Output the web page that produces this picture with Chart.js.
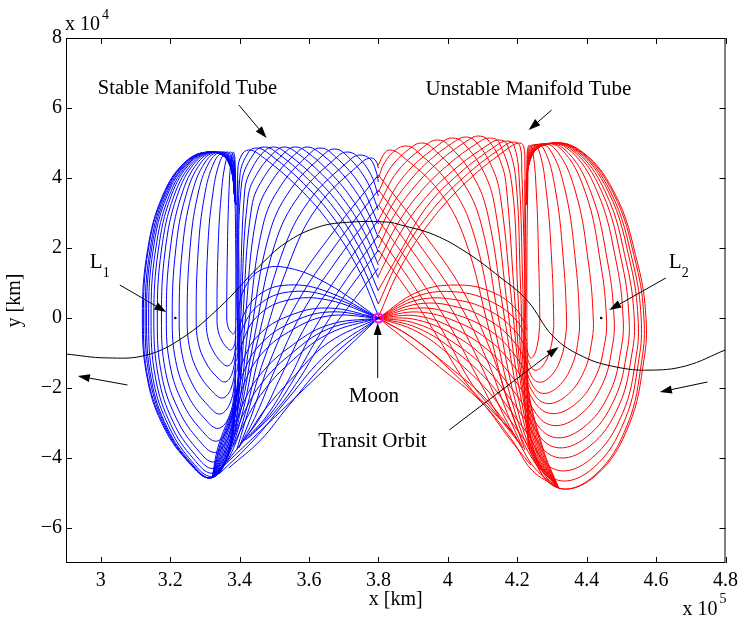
<!DOCTYPE html>
<html><head><meta charset="utf-8">
<script src="https://cdn.jsdelivr.net/npm/chart.js@4.4.0/dist/chart.umd.min.js"></script>
<style>html,body{margin:0;padding:0;background:#fff}#c{display:block}</style>
</head><body>
<canvas id="c" width="744" height="620"></canvas>
<script>
// Units: x in 10^5 km, y in 10^4 km (as shown by the axis multipliers)
const xTicks = [3.0,3.2,3.4,3.6,3.8,4.0,4.2,4.4,4.6,4.8];
const xTickLabels = ['3','3.2','3.4','3.6','3.8','4','4.2','4.4','4.6','4.8'];
const yTicks = [-6,-4,-2,0,2,4,6,8];
const yTickLabels = ['\u22126','\u22124','\u22122','0','2','4','6','8'];

const transitOrbit = [[2.9,-1.03],[3.017,-1.14],[3.132,-1.06],[3.235,-0.57],[3.341,0.29],[3.455,1.46],[3.532,2.14],[3.627,2.6],[3.721,2.74],[3.827,2.74],[3.864,2.66],[3.962,2.37],[4.056,1.86],[4.15,1.17],[4.228,0.51],[4.305,-0.54],[4.391,-1.11],[4.485,-1.4],[4.58,-1.49],[4.685,-1.37],[4.8,-0.91]];
const lagrangePoints = [[3.215,0],[4.442,0]];
const moonPoint = [[3.8,0]];

// ---------- Stable manifold tube (blue), L1 side ----------
const blueLoopX = [
 [3.389,3.366,3.312,3.243,3.178,3.135,3.120,3.135,3.183,3.255,3.315,3.364,3.389],
 [3.389,3.367,3.313,3.245,3.180,3.137,3.123,3.137,3.186,3.256,3.316,3.364,3.389],
 [3.389,3.367,3.314,3.247,3.183,3.142,3.128,3.142,3.189,3.258,3.317,3.364,3.389],
 [3.389,3.367,3.315,3.250,3.187,3.146,3.132,3.146,3.192,3.261,3.318,3.365,3.389],
 [3.389,3.368,3.317,3.253,3.191,3.151,3.138,3.151,3.197,3.263,3.320,3.365,3.389],
 [3.389,3.368,3.319,3.257,3.197,3.158,3.145,3.158,3.202,3.267,3.322,3.366,3.389],
 [3.389,3.369,3.321,3.261,3.203,3.166,3.153,3.166,3.208,3.271,3.324,3.367,3.389],
 [3.389,3.370,3.324,3.267,3.211,3.175,3.163,3.175,3.216,3.276,3.327,3.368,3.389],
 [3.389,3.371,3.328,3.273,3.220,3.186,3.175,3.186,3.225,3.282,3.330,3.369,3.389],
 [3.389,3.372,3.332,3.281,3.232,3.200,3.189,3.200,3.236,3.289,3.334,3.370,3.389],
 [3.389,3.374,3.337,3.290,3.245,3.216,3.206,3.216,3.249,3.298,3.339,3.372,3.389],
 [3.389,3.375,3.343,3.301,3.261,3.235,3.226,3.235,3.264,3.308,3.344,3.374,3.389],
 [3.389,3.377,3.349,3.313,3.279,3.257,3.249,3.257,3.282,3.319,3.351,3.376,3.389],
 [3.389,3.380,3.356,3.327,3.299,3.281,3.275,3.281,3.302,3.332,3.358,3.378,3.389],
 [3.389,3.382,3.365,3.343,3.322,3.308,3.304,3.308,3.324,3.346,3.366,3.381,3.389],
 [3.389,3.385,3.374,3.360,3.347,3.338,3.335,3.338,3.348,3.362,3.374,3.384,3.389],
 [3.389,3.387,3.382,3.375,3.369,3.365,3.363,3.365,3.369,3.376,3.382,3.387,3.389]
];
const blueLoopY = [
 [3.229,4.486,4.743,4.457,3.486,1.943,0,-1.771,-3.143,-4.143,-4.571,-4.0,-2.629],
 [3.229,4.486,4.743,4.457,3.486,1.943,0,-1.771,-3.143,-4.143,-4.571,-4.0,-2.629],
 [3.229,4.486,4.743,4.457,3.486,1.943,0,-1.771,-3.143,-4.143,-4.571,-4.0,-2.629],
 [3.229,4.486,4.743,4.457,3.486,1.943,0,-1.771,-3.143,-4.143,-4.571,-4.0,-2.629],
 [3.229,4.486,4.743,4.457,3.486,1.943,0,-1.753,-3.112,-4.102,-4.525,-3.96,-2.603],
 [3.229,4.486,4.743,4.457,3.486,1.943,0,-1.718,-3.049,-4.019,-4.434,-3.88,-2.55],
 [3.229,4.486,4.743,4.457,3.486,1.943,0,-1.665,-2.954,-3.894,-4.297,-3.76,-2.471],
 [3.229,4.486,4.743,4.457,3.486,1.943,0,-1.594,-2.829,-3.729,-4.114,-3.6,-2.366],
 [3.229,4.486,4.743,4.457,3.486,1.943,0,-1.488,-2.64,-3.48,-3.84,-3.36,-2.208],
 [3.229,4.486,4.743,4.457,3.486,1.943,0,-1.364,-2.42,-3.19,-3.52,-3.08,-2.024],
 [3.229,4.486,4.743,4.457,3.486,1.943,0,-1.222,-2.169,-2.859,-3.154,-2.76,-1.814],
 [3.229,4.486,4.743,4.457,3.486,1.943,0,-1.063,-1.886,-2.486,-2.743,-2.4,-1.577],
 [3.229,4.486,4.743,4.457,3.486,1.943,0,-0.886,-1.572,-2.072,-2.286,-2.0,-1.315],
 [3.229,4.486,4.743,4.457,3.486,1.943,0,-0.708,-1.257,-1.657,-1.828,-1.6,-1.052],
 [3.229,4.486,4.743,4.457,3.486,1.943,0,-0.531,-0.943,-1.243,-1.371,-1.2,-0.789],
 [3.229,4.486,4.743,4.457,3.486,1.943,0,-0.354,-0.629,-0.829,-0.914,-0.8,-0.526],
 [3.229,4.486,4.743,4.457,3.486,1.943,0,-0.177,-0.314,-0.414,-0.457,-0.4,-0.263]
];
const blueArcs = [
 [[3.8,4.286],[3.793,4.486],[3.778,4.571],[3.753,4.457],[3.623,3.154],[3.541,1.514],[3.461,-0.914],[3.415,-2.771],[3.369,-4.0],[3.321,-4.571]],
 [[3.8,3.886],[3.792,4.231],[3.776,4.543],[3.747,4.657],[3.721,4.543],[3.599,3.331],[3.521,1.8],[3.449,-0.771],[3.409,-2.686],[3.366,-3.971],[3.321,-4.571]],
 [[3.8,3.486],[3.778,4.106],[3.738,4.629],[3.71,4.743],[3.684,4.629],[3.572,3.503],[3.501,2.086],[3.441,-0.629],[3.404,-2.629],[3.364,-3.943],[3.321,-4.571]],
 [[3.8,3.086],[3.763,3.977],[3.701,4.714],[3.673,4.829],[3.647,4.714],[3.546,3.66],[3.484,2.343],[3.432,-0.486],[3.401,-2.571],[3.361,-3.914],[3.321,-4.571]],
 [[3.8,2.686],[3.746,3.823],[3.661,4.743],[3.632,4.857],[3.607,4.743],[3.52,3.797],[3.467,2.629],[3.424,-0.343],[3.398,-2.486],[3.358,-3.886],[3.321,-4.571]],
 [[3.8,2.286],[3.77,3.011],[3.731,3.669],[3.683,4.254],[3.624,4.771],[3.595,4.886],[3.57,4.771],[3.495,3.94],[3.449,2.914],[3.415,-0.2],[3.395,-2.4],[3.355,-3.857],[3.321,-4.571]],
 [[3.8,1.886],[3.764,2.731],[3.717,3.494],[3.659,4.174],[3.59,4.771],[3.561,4.886],[3.535,4.771],[3.472,4.051],[3.435,3.171],[3.409,-0.057],[3.395,-2.343],[3.352,-3.829],[3.321,-4.571]],
 [[3.8,1.514],[3.758,2.471],[3.704,3.334],[3.638,4.1],[3.558,4.771],[3.529,4.886],[3.504,4.771],[3.453,4.163],[3.424,3.429],[3.404,0.086],[3.392,-2.286],[3.349,-3.8],[3.321,-4.571]],
 [[3.8,1.143],[3.752,2.211],[3.692,3.174],[3.616,4.026],[3.527,4.771],[3.498,4.886],[3.472,4.771],[3.435,4.26],[3.415,3.657],[3.401,0.229],[3.392,-2.229],[3.346,-3.771],[3.321,-4.571]],
 [[3.8,0.771],[3.748,1.949],[3.682,3.009],[3.599,3.949],[3.501,4.771],[3.472,4.886],[3.446,4.771],[3.406,3.857],[3.398,0.371],[3.392,-2.171],[3.343,-3.743],[3.321,-4.571]],
 [[3.8,0.4],[3.744,1.677],[3.673,2.829],[3.584,3.849],[3.478,4.743],[3.449,4.857],[3.426,4.743],[3.401,4.057],[3.395,0.514],[3.392,-2.114],[3.341,-3.714],[3.321,-4.571]],
 [[3.8,0.057],[3.741,1.42],[3.664,2.646],[3.569,3.734],[3.455,4.686],[3.426,4.8],[3.406,4.657],[3.395,4.229],[3.392,0.657],[3.392,-2.057],[3.338,-3.686],[3.321,-4.571]]
];
const blueDown = [
 [[3.8,4.086],[3.67,2.457],[3.555,0.8],[3.478,-0.971],[3.426,-2.629],[3.392,-3.771]],
 [[3.8,3.657],[3.675,2.057],[3.567,0.457],[3.489,-1.2],[3.438,-2.686],[3.398,-3.714]],
 [[3.8,3.229],[3.681,1.657],[3.578,0.114],[3.504,-1.429],[3.449,-2.743],[3.401,-3.657]],
 [[3.8,2.8],[3.687,1.257],[3.592,-0.2],[3.521,-1.629],[3.464,-2.771],[3.406,-3.571]],
 [[3.8,2.371],[3.693,0.886],[3.607,-0.457],[3.541,-1.771],[3.478,-2.8],[3.412,-3.514]],
 [[3.8,1.943],[3.698,0.571],[3.621,-0.629],[3.555,-1.771],[3.489,-2.743],[3.418,-3.486]],
 [[3.8,1.429],[3.707,0.229],[3.632,-0.771],[3.57,-1.771],[3.501,-2.686],[3.426,-3.429]]
];
const blueFan = [
 [[3.8,0],[3.655,0.971],[3.541,1.429],[3.461,1.371],[3.412,0.8],[3.392,-0.057]],
 [[3.8,0],[3.655,0.743],[3.541,0.943],[3.455,0.657],[3.406,-0.057],[3.392,-0.914]],
 [[3.8,0],[3.655,0.629],[3.541,0.743],[3.455,0.371],[3.406,-0.371],[3.392,-1.229]],
 [[3.8,0],[3.655,0.514],[3.541,0.514],[3.455,0.086],[3.409,-0.686],[3.392,-1.543]],
 [[3.8,0],[3.655,0.286],[3.541,0.057],[3.455,-0.486],[3.409,-1.257],[3.392,-2.114]],
 [[3.8,0],[3.655,0.171],[3.541,-0.171],[3.458,-0.771],[3.412,-1.543],[3.389,-2.371]],
 [[3.8,0],[3.655,0.057],[3.541,-0.4],[3.461,-1.057],[3.415,-1.829],[3.392,-2.629]],
 [[3.8,0],[3.655,-0.2],[3.541,-0.857],[3.461,-1.6],[3.415,-2.343],[3.386,-3.143]],
 [[3.8,0],[3.655,-0.314],[3.541,-1.086],[3.464,-1.857],[3.418,-2.6],[3.384,-3.4]],
 [[3.8,0],[3.655,-0.457],[3.541,-1.314],[3.467,-2.114],[3.421,-2.857],[3.381,-3.657]],
 [[3.8,0],[3.655,-0.714],[3.547,-1.771],[3.472,-2.629],[3.421,-3.371],[3.363,-4.114]],
 [[3.8,0],[3.655,-1.0],[3.541,-2.286],[3.441,-3.486],[3.341,-4.457]],
 [[3.8,0],[3.655,-1.2],[3.541,-2.514],[3.461,-3.486],[3.369,-4.286]],
 [[3.8,0],[3.318,-4.571]]
];
const blueBand = [
 [[3.386,4.086],[3.389,1.943],[3.389,-0.343],[3.386,-2.629],[3.375,-3.629],[3.346,-4.286],[3.321,-4.571]],
 [[3.395,3.943],[3.395,-0.343],[3.392,-2.914],[3.358,-4.114],[3.321,-4.571]]
];

// ---------- Unstable manifold tube (red), L2 side ----------
const redLoopX = [
 [4.228,4.233,4.271,4.371,4.479,4.548,4.571,4.565,4.522,4.428,4.319,4.242,4.228],
 [4.228,4.233,4.270,4.368,4.475,4.543,4.565,4.559,4.517,4.424,4.318,4.242,4.228],
 [4.228,4.233,4.269,4.365,4.469,4.535,4.557,4.551,4.510,4.420,4.315,4.241,4.228],
 [4.228,4.233,4.268,4.361,4.463,4.527,4.548,4.543,4.503,4.414,4.313,4.241,4.228],
 [4.228,4.233,4.266,4.356,4.454,4.516,4.537,4.531,4.493,4.408,4.310,4.240,4.228],
 [4.228,4.232,4.264,4.350,4.444,4.503,4.522,4.517,4.480,4.399,4.306,4.240,4.228],
 [4.228,4.232,4.262,4.343,4.431,4.487,4.505,4.500,4.466,4.389,4.302,4.239,4.228],
 [4.228,4.232,4.259,4.332,4.412,4.462,4.479,4.475,4.444,4.374,4.295,4.238,4.228],
 [4.228,4.231,4.256,4.323,4.396,4.441,4.457,4.453,4.424,4.361,4.289,4.237,4.228],
 [4.228,4.231,4.252,4.307,4.368,4.406,4.419,4.416,4.392,4.339,4.279,4.236,4.228],
 [4.228,4.230,4.247,4.291,4.339,4.369,4.379,4.377,4.358,4.316,4.268,4.234,4.228],
 [4.228,4.230,4.242,4.275,4.311,4.334,4.342,4.340,4.326,4.294,4.258,4.232,4.228],
 [4.228,4.229,4.237,4.260,4.284,4.300,4.305,4.304,4.294,4.273,4.248,4.231,4.228],
 [4.228,4.228,4.232,4.243,4.255,4.262,4.265,4.264,4.259,4.249,4.238,4.229,4.228]
];
const redLoopY = [
 [3.229,4.371,4.914,4.857,3.6,1.514,0,-1.2,-3.057,-4.486,-4.857,-3.914,-2.914],
 [3.229,4.371,4.914,4.857,3.6,1.514,0,-1.2,-3.057,-4.486,-4.857,-3.914,-2.914],
 [3.229,4.371,4.914,4.857,3.6,1.514,0,-1.144,-2.913,-4.275,-4.629,-3.73,-2.777],
 [3.229,4.371,4.914,4.857,3.6,1.514,0,-1.073,-2.733,-4.01,-4.342,-3.499,-2.605],
 [3.229,4.371,4.914,4.857,3.6,1.514,0,-0.982,-2.501,-3.67,-3.973,-3.202,-2.384],
 [3.229,4.371,4.914,4.857,3.6,1.514,0,-0.911,-2.32,-3.405,-3.686,-2.971,-2.212],
 [3.229,4.371,4.914,4.857,3.6,1.514,0,-0.84,-2.14,-3.14,-3.4,-2.74,-2.04],
 [3.229,4.371,4.914,4.857,3.6,1.514,0,-0.755,-1.923,-2.822,-3.055,-2.462,-1.833],
 [3.229,4.371,4.914,4.857,3.6,1.514,0,-0.671,-1.709,-2.508,-2.715,-2.188,-1.629],
 [3.229,4.371,4.914,4.857,3.6,1.514,0,-0.6,-1.529,-2.243,-2.429,-1.957,-1.457],
 [3.229,4.371,4.914,4.857,3.6,1.514,0,-0.529,-1.348,-1.978,-2.142,-1.726,-1.285],
 [3.229,4.371,4.914,4.857,3.6,1.514,0,-0.451,-1.149,-1.687,-1.826,-1.472,-1.096],
 [3.229,4.371,4.914,4.857,3.6,1.514,0,-0.367,-0.935,-1.373,-1.486,-1.198,-0.892],
 [3.229,4.371,4.914,4.857,3.6,1.514,0,-0.282,-0.718,-1.054,-1.141,-0.92,-0.685]
];
const redArcs = [
 [[3.8,4.371],[3.818,4.714],[3.833,4.8],[3.861,4.686],[3.976,3.609],[4.05,2.229],[4.119,-0.343],[4.176,-2.486],[4.242,-4.0],[4.319,-4.857]],
 [[3.8,4.0],[3.818,4.44],[3.85,4.8],[3.879,4.914],[3.907,4.8],[4.009,3.76],[4.073,2.457],[4.133,-0.2],[4.185,-2.4],[4.245,-3.971],[4.319,-4.857]],
 [[3.8,3.6],[3.837,4.32],[3.896,4.886],[3.924,5.0],[3.953,4.886],[4.042,3.9],[4.096,2.686],[4.147,-0.057],[4.193,-2.314],[4.248,-3.943],[4.319,-4.857]],
 [[3.8,3.2],[3.856,4.2],[3.941,4.971],[3.97,5.086],[3.999,4.971],[4.074,4.037],[4.116,2.914],[4.162,0.086],[4.202,-2.229],[4.251,-3.914],[4.319,-4.857]],
 [[3.8,2.8],[3.874,4.063],[3.984,5.029],[4.013,5.143],[4.042,5.029],[4.104,4.16],[4.136,3.143],[4.173,0.229],[4.208,-2.143],[4.253,-3.886],[4.319,-4.857]],
 [[3.8,2.4],[3.838,3.197],[3.889,3.906],[3.95,4.526],[4.022,5.057],[4.05,5.171],[4.079,5.057],[4.129,4.274],[4.153,3.371],[4.185,0.371],[4.213,-2.057],[4.256,-3.857],[4.319,-4.857]],
 [[3.8,2.0],[3.845,2.929],[3.904,3.751],[3.975,4.471],[4.059,5.086],[4.087,5.2],[4.116,5.086],[4.155,4.386],[4.17,3.6],[4.193,0.514],[4.216,-2.0],[4.259,-3.829],[4.319,-4.857]],
 [[3.8,1.6],[3.851,2.617],[3.917,3.549],[3.997,4.346],[4.09,5.029],[4.119,5.143],[4.147,5.029],[4.185,3.771],[4.202,0.657],[4.219,-1.943],[4.262,-3.8],[4.319,-4.857]],
 [[3.8,1.2],[3.856,2.306],[3.928,3.343],[4.016,4.22],[4.119,4.971],[4.147,5.086],[4.17,4.971],[4.196,3.943],[4.21,0.8],[4.222,-1.886],[4.265,-3.771],[4.319,-4.857]],
 [[3.8,0.8],[3.859,1.826],[3.937,3.146],[4.031,4.111],[4.142,4.943],[4.17,5.057],[4.19,4.943],[4.205,4.086],[4.216,0.943],[4.225,-1.829],[4.268,-3.743],[4.319,-4.857]],
 [[3.8,0.4],[3.862,1.717],[3.944,2.949],[4.044,4.003],[4.162,4.914],[4.19,5.029],[4.208,4.914],[4.213,4.229],[4.222,1.086],[4.228,-1.771],[4.271,-3.714],[4.319,-4.857]],
 [[3.8,0.029],[3.865,1.463],[3.95,2.76],[4.055,3.9],[4.179,4.886],[4.208,5.0],[4.219,4.886],[4.222,4.371],[4.225,1.229],[4.228,-1.714],[4.273,-3.686],[4.319,-4.857]]
];
const redDown = [
 [[3.8,4.086],[3.927,2.457],[4.042,0.8],[4.125,-0.971],[4.182,-2.629],[4.222,-3.771]],
 [[3.8,3.657],[3.921,2.057],[4.03,0.457],[4.113,-1.2],[4.17,-2.686],[4.216,-3.714]],
 [[3.8,3.229],[3.916,1.657],[4.019,0.114],[4.099,-1.429],[4.159,-2.743],[4.21,-3.657]],
 [[3.8,2.8],[3.91,1.257],[4.004,-0.2],[4.082,-1.629],[4.145,-2.771],[4.205,-3.571]],
 [[3.8,2.371],[3.904,0.886],[3.99,-0.457],[4.062,-1.771],[4.13,-2.629],[4.199,-3.429]],
 [[3.8,1.943],[3.899,0.571],[3.976,-0.629],[4.047,-1.771],[4.113,-2.514],[4.188,-3.257]]
];
const redFan = [
 [[3.8,0],[3.913,0.743],[4.027,0.943],[4.127,0.743],[4.199,0.229],[4.228,-0.343]],
 [[3.8,0],[3.913,0.629],[4.027,0.743],[4.127,0.457],[4.199,-0.086],[4.228,-0.657]],
 [[3.8,0],[3.913,0.514],[4.027,0.514],[4.127,0.171],[4.199,-0.429],[4.228,-0.971]],
 [[3.8,0],[3.913,0.4],[4.027,0.314],[4.127,-0.114],[4.196,-0.743],[4.228,-1.314]],
 [[3.8,0],[3.913,0.286],[4.027,0.086],[4.127,-0.4],[4.193,-1.057],[4.228,-1.629]],
 [[3.8,0],[3.913,0.171],[4.027,-0.114],[4.125,-0.686],[4.19,-1.371],[4.228,-1.943]],
 [[3.8,0],[3.913,0.057],[4.027,-0.343],[4.122,-0.971],[4.188,-1.714],[4.228,-2.286]],
 [[3.8,0],[3.913,-0.057],[4.027,-0.543],[4.119,-1.257],[4.185,-2.029],[4.228,-2.629]],
 [[3.8,0],[3.913,-0.171],[4.027,-0.771],[4.119,-1.543],[4.182,-2.343],[4.228,-2.971]],
 [[3.8,0],[3.913,-0.286],[4.024,-0.971],[4.116,-1.8],[4.179,-2.629],[4.228,-3.286]],
 [[3.8,0],[3.913,-0.4],[4.022,-1.2],[4.113,-2.057],[4.179,-2.914],[4.231,-3.629]],
 [[3.8,0],[3.907,-0.629],[4.013,-1.543],[4.105,-2.486],[4.176,-3.429],[4.239,-4.2]],
 [[3.8,0],[3.89,-0.514],[3.987,-1.257],[4.107,-2.286],[4.193,-3.371],[4.25,-4.286],[4.319,-4.857]],
 [[3.8,0],[3.879,-0.629],[3.976,-1.4],[4.099,-2.429],[4.185,-3.486],[4.242,-4.343],[4.319,-4.857]]
];
const redBand = [
 [[4.231,4.229],[4.228,1.943],[4.228,-0.343],[4.231,-2.629],[4.245,-3.714],[4.279,-4.486],[4.319,-4.857]],
 [[4.222,3.943],[4.222,-0.343],[4.225,-2.914],[4.256,-4.114],[4.319,-4.857]]
];

// ---------- build datasets ----------
const BLUE = '#0000ff', RED = '#ff0000';
const toXY = pts => pts.map(([x, y]) => ({x, y}));
const zipXY = (xs, ys) => xs.map((x, i) => ({x, y: ys[i]}));
const line = (data, color) => ({data, showLine: true, borderColor: color, borderWidth: 1, pointRadius: 0, tension: 0.4, fill: false});

const datasets = [];
datasets.push({data: toXY(moonPoint), showLine: false, pointRadius: 1.5, pointBackgroundColor: '#000080', pointBorderWidth: 0});
datasets.push({data: toXY(moonPoint), showLine: false, pointRadius: 4.5, pointBorderColor: '#ff00ff', pointBorderWidth: 2, pointBackgroundColor: 'rgba(0,0,0,0)'});
datasets.push({data: toXY(lagrangePoints), showLine: false, pointRadius: 1.3, pointBackgroundColor: '#000', pointBorderWidth: 0});
datasets.push(line(toXY(transitOrbit), '#000'));
blueLoopX.forEach((xs, i) => datasets.push(line(zipXY(xs, blueLoopY[i]), BLUE)));
blueArcs.concat(blueDown, blueFan, blueBand).forEach(c => datasets.push(line(toXY(c), BLUE)));
redLoopX.forEach((xs, i) => datasets.push(line(zipXY(xs, redLoopY[i]), RED)));
redArcs.concat(redDown, redFan, redBand).forEach(c => datasets.push(line(toXY(c), RED)));

// ---------- annotations (positions in data units) ----------
const FONT = '"Liberation Serif", "Times New Roman", serif';
const arrows = [
 [3.398,6.086,3.478,5.143],
 [4.299,5.943,4.233,5.371],
 [3.055,0.943,3.189,0.171],
 [4.628,1.143,4.465,0.229],
 [3.798,-1.714,3.798,-0.143],
 [4.004,-3.2,4.319,-0.829],
 [3.077,-1.914,2.934,-1.657],
 [4.748,-1.829,4.611,-2.114]
];
const labels = [
 {t:'Stable Manifold Tube', x:2.9916, y:6.543, align:'left', size:20.5},
 {t:'Unstable Manifold Tube', x:3.9358, y:6.543, align:'left', size:21},
 {t:'Moon', x:3.787, y:-2.25, align:'center', size:21},
 {t:'Transit Orbit', x:3.6267, y:-3.53, align:'left', size:21},
 {t:'L', x:2.9687, y:1.6, align:'left', size:21},
 {t:'1', x:3.0059, y:1.27, align:'left', size:14},
 {t:'L', x:4.6368, y:1.6, align:'left', size:21},
 {t:'2', x:4.674, y:1.27, align:'left', size:14}
];

const annot = {
 id: 'annot',
 afterDraw(chart) {
  const {ctx, chartArea: a, scales: {x, y}} = chart;
  ctx.save();
  ctx.strokeStyle = '#000'; ctx.fillStyle = '#000'; ctx.lineWidth = 1;
  ctx.strokeRect(a.left + 0.5, a.top + 0.5, a.right - a.left - 1, a.bottom - a.top - 1);
  const TL = 6;
  ctx.beginPath();
  xTicks.forEach(v => {
   const px = Math.round(x.getPixelForValue(v)) + 0.5;
   ctx.moveTo(px, a.bottom); ctx.lineTo(px, a.bottom - TL);
   ctx.moveTo(px, a.top); ctx.lineTo(px, a.top + TL);
  });
  yTicks.forEach(v => {
   const py = Math.round(y.getPixelForValue(v)) + 0.5;
   ctx.moveTo(a.left, py); ctx.lineTo(a.left + TL, py);
   ctx.moveTo(a.right, py); ctx.lineTo(a.right - TL, py);
  });
  ctx.stroke();
  arrows.forEach(([x1, y1, x2, y2]) => {
   const p1x = x.getPixelForValue(x1), p1y = y.getPixelForValue(y1);
   const p2x = x.getPixelForValue(x2), p2y = y.getPixelForValue(y2);
   const ang = Math.atan2(p2y - p1y, p2x - p1x);
   const L = 12, W = 4;
   const bx = p2x - L * Math.cos(ang), by = p2y - L * Math.sin(ang);
   ctx.beginPath(); ctx.moveTo(p1x, p1y); ctx.lineTo(bx, by); ctx.stroke();
   ctx.beginPath();
   ctx.moveTo(p2x, p2y);
   ctx.lineTo(bx + W * Math.sin(ang), by - W * Math.cos(ang));
   ctx.lineTo(bx - W * Math.sin(ang), by + W * Math.cos(ang));
   ctx.closePath(); ctx.fill();
  });
  ctx.textBaseline = 'middle';
  labels.forEach(l => {
   ctx.font = l.size + 'px ' + FONT;
   ctx.textAlign = l.align;
   ctx.fillText(l.t, x.getPixelForValue(l.x), y.getPixelForValue(l.y));
  });
  ctx.font = '20px ' + FONT;
  ctx.textAlign = 'center';
  ctx.fillText('x [km]', (a.left + a.right) / 2, a.bottom + 37);
  ctx.save();
  ctx.translate(15, (a.top + a.bottom) / 2);
  ctx.rotate(-Math.PI / 2);
  ctx.fillText('y [km]', 0, 0);
  ctx.restore();
  ctx.textAlign = 'left';
  ctx.fillText('x 10', a.left - 1, a.top - 13);
  ctx.fillText('x 10', a.right - 43, a.bottom + 47);
  ctx.font = '14px ' + FONT;
  ctx.fillText('4', a.left + 36, a.top - 23);
  ctx.fillText('5', a.right - 6, a.bottom + 36);
  ctx.restore();
 }
};

new Chart(document.getElementById('c').getContext('2d'), {
 type: 'scatter',
 data: {datasets},
 options: {
  responsive: false, animation: false, devicePixelRatio: 1,
  layout: {padding: {left: 0, top: 38, right: 14, bottom: 0}},
  plugins: {legend: {display: false}, tooltip: {enabled: false}},
  scales: {
   x: {
    type: 'linear', min: 2.9, max: 4.8,
    afterBuildTicks(s) { s.ticks = xTicks.map(v => ({value: v})); },
    afterFit(s) { s.height = 57; },
    grid: {display: false, drawTicks: false}, border: {display: false},
    ticks: {callback: (v, i) => xTickLabels[i], font: {family: FONT, size: 20}, color: '#000', padding: 6, maxRotation: 0, autoSkip: false}
   },
   y: {
    type: 'linear', min: -7, max: 8,
    afterBuildTicks(s) { s.ticks = yTicks.map(v => ({value: v})); },
    afterFit(s) { s.width = 66; },
    grid: {display: false, drawTicks: false}, border: {display: false},
    ticks: {callback: (v, i) => yTickLabels[i], font: {family: FONT, size: 20}, color: '#000', padding: 4, autoSkip: false}
   }
  }
 },
 plugins: [annot]
});
</script>
</body></html>
